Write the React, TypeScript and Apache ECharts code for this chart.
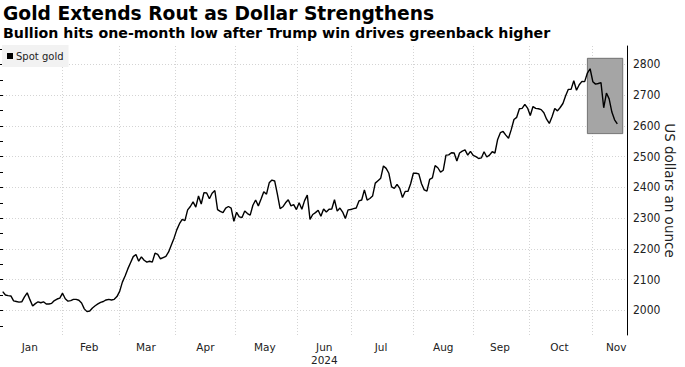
import React, { useEffect, useRef } from "react";
import * as echarts from "echarts";

// ---------- texts ----------
const titleText = "Gold Extends Rout as Dollar Strengthens";
const subtitleText = "Bullion hits one-month low after Trump win drives greenback higher";
const seriesName = "Spot gold";
const yAxisName = "US dollars an ounce";
const monthNames = ["Jan", "Feb", "Mar", "Apr", "May", "Jun", "Jul", "Aug", "Sep", "Oct", "Nov"];
const yearLabel = "2024";
const yearMonth = "06";

// ---------- data (one value per weekday, 2024) ----------
const jan = [null, 2061, 2050, 2048, 2047, 2031, 2029, 2027, 2028, 2044, 2057, 2035, 2014, 2022, 2028, 2025, 2028, 2021, 2021, 2023, 2032, 2037, 2040];
const feb = [2056, 2038, 2030, 2032, 2036, 2036, 2033, 2024, 2005, 1996, 1998, 2008, 2015, 2021, 2026, 2029, 2034, 2036, 2034, 2036, 2045];
const mar = [2062, 2092, 2112, 2135, 2155, 2175, 2182, 2160, 2174, 2163, 2157, 2160, 2157, 2186, 2182, 2168, 2172, 2176, 2190, 2213, 2235];
const apr = [2262, 2282, 2296, 2292, 2327, 2338, 2353, 2336, 2372, 2346, 2383, 2382, 2363, 2381, 2390, 2328, 2322, 2318, 2333, 2338, 2333, 2290];
const may = [2319, 2304, 2302, 2323, 2315, 2310, 2342, 2359, 2340, 2362, 2386, 2378, 2415, 2424, 2421, 2378, 2331, 2337, 2350, 2360, 2340, 2344, 2328];
const jun = [2350, 2329, 2357, 2375, 2296, 2312, 2318, 2326, 2306, 2330, 2320, 2329, 2330, 2360, 2323, 2333, 2320, 2299, 2327, 2328];
const jul = [2331, 2333, 2356, 2359, 2392, 2359, 2364, 2372, 2414, 2422, 2430, 2470, 2462, 2446, 2402, 2397, 2410, 2397, 2367, 2387, 2387, 2412, 2446];
const aug = [2446, 2444, 2412, 2392, 2388, 2426, 2431, 2471, 2464, 2450, 2456, 2505, 2506, 2513, 2512, 2486, 2512, 2518, 2522, 2505, 2517, 2504];
const sep = [2500, 2494, 2496, 2516, 2499, 2505, 2516, 2512, 2556, 2578, 2582, 2570, 2560, 2588, 2621, 2628, 2656, 2657, 2670, 2658, 2634];
const oct = [2663, 2657, 2656, 2653, 2643, 2622, 2608, 2630, 2657, 2649, 2660, 2673, 2698, 2719, 2719, 2747, 2716, 2734, 2745, 2744, 2772, 2786, 2744];
const nov = [2736, 2738, 2741, 2659, 2707, 2688, 2645, 2620, 2607];

const axisStart = "2024-01-01";
const axisEnd = "2024-11-20";

// highlighted box
const boxFrom = "2024-10-29";
const boxTo = "2024-11-15";
const boxLow = 2575;
const boxHigh = 2820;

// y axis
const yMin = 1920;
const yMax = 2860;
const tickMin = 1950;
const tickMax = 2850;
const tickStep = 50;
const labelMin = 2000;
const labelMax = 2800;
const labelStep = 100;

// ---------- layout ----------
const W = 685;
const H = 367;
const plotLeft = -2.68;
const plotRight = 629;
const plotTop = 46;
const plotBottom = 335;
const lineShift = 1.9;
const FONT = "'DejaVu Sans', Verdana, sans-serif";
const NARROW = "'Liberation Sans Narrow', 'DejaVu Sans Condensed', sans-serif";

function weekdayDates(start: string, end: string): string[] {
  const out: string[] = [];
  const d = new Date(start + "T00:00:00Z");
  const e = new Date(end + "T00:00:00Z");
  while (d.getTime() <= e.getTime()) {
    const wd = d.getUTCDay();
    if (wd !== 0 && wd !== 6) out.push(d.toISOString().slice(0, 10));
    d.setUTCDate(d.getUTCDate() + 1);
  }
  return out;
}

function monthEnd(ym: string): string {
  const [y, m] = ym.split("-").map(Number);
  const d = new Date(Date.UTC(y, m, 0));
  return d.toISOString().slice(0, 10);
}

export default function App() {
  const ref = useRef<HTMLDivElement>(null);

  useEffect(() => {
    if (!ref.current) return;
    const chart = echarts.init(ref.current, undefined, { renderer: "svg" });

    const dates = weekdayDates(axisStart, axisEnd);
    const values = [...jan, ...feb, ...mar, ...apr, ...may, ...jun, ...jul, ...aug, ...sep, ...oct, ...nov];
    const seriesData = dates.map((_, i) => (i < values.length ? values[i] : null));

    const monthStarts = new Set<number>();
    const monthLabels = new Map<number, string>();
    const firstIdx = new Map<string, number>();
    dates.forEach((d, i) => {
      const ym = d.slice(0, 7);
      if (!firstIdx.has(ym)) {
        firstIdx.set(ym, i);
        if (i > 0) monthStarts.add(i);
      }
    });
    firstIdx.forEach((s, ym) => {
      const c = weekdayDates(ym + "-01", monthEnd(ym)).length;
      const idx = Math.min(s + Math.floor(c / 2), dates.length - 5);
      const m = ym.slice(5, 7);
      const name = monthNames[Number(m) - 1];
      monthLabels.set(idx, m === yearMonth ? name + "\n" + yearLabel : name);
    });

    const k = (plotBottom - plotTop) / (yMax - yMin);
    const gridW = plotRight - plotLeft;

    const option: any = {
      animation: false,
      backgroundColor: "#fff",
      textStyle: { fontFamily: FONT },
      graphic: [
        {
          type: "text",
          left: 3,
          top: 4,
          style: { text: titleText, fill: "#000", font: `bold 18.7px ${FONT}` },
        },
        {
          type: "text",
          left: 3,
          top: 26,
          style: { text: subtitleText, fill: "#000", font: `bold 14.2px ${FONT}` },
        },
      ],
      legend: {
        left: 2,
        top: 45,
        data: [{ name: seriesName, icon: "rect" }],
        itemWidth: 6,
        itemHeight: 6,
        padding: [6, 5, 6, 5],
        backgroundColor: "#f2f2f2",
        textStyle: { fontSize: 10, color: "#222", fontFamily: FONT, padding: [0, 0, 0, -2] },
        selectedMode: false,
      },
      grid: [
        { left: plotLeft, width: gridW, top: plotTop, height: plotBottom - plotTop },
        { left: plotLeft + lineShift, width: gridW, top: plotTop, height: plotBottom - plotTop },
        {
          left: 0,
          width: plotRight,
          top: plotTop + (yMax - tickMax) * k,
          height: (tickMax - tickMin) * k,
        },
        {
          left: 0,
          width: plotRight,
          top: plotTop + (yMax - labelMax) * k,
          height: (labelMax - labelMin) * k,
        },
      ],
      xAxis: [
        {
          gridIndex: 0,
          type: "category",
          data: dates,
          boundaryGap: false,
          axisLine: { show: false },
          axisTick: { show: false },
          axisLabel: {
            interval: (i: number) => monthLabels.has(i),
            formatter: (_v: string, i: number) => monthLabels.get(i) || "",
            color: "#222",
            fontSize: 10.5,
            fontFamily: FONT,
            margin: 5,
            lineHeight: 13,
          },
          splitLine: {
            show: true,
            interval: (i: number) => monthStarts.has(i),
            lineStyle: { color: "#d4d4d4", type: [1, 2], width: 1 },
          },
        },
        { gridIndex: 1, type: "category", data: dates, boundaryGap: false, show: false },
        { gridIndex: 2, type: "value", show: false },
        { gridIndex: 3, type: "value", show: false },
      ],
      yAxis: [
        {
          gridIndex: 0,
          type: "value",
          position: "right",
          min: yMin,
          max: yMax,
          axisLine: { show: true, lineStyle: { color: "#000", width: 1 } },
          axisTick: { show: false },
          axisLabel: { show: false },
          splitLine: { show: false },
          name: yAxisName,
          nameLocation: "middle",
          nameRotate: -90,
          nameGap: 36,
          nameTextStyle: { fontSize: 13.5, color: "#222", fontFamily: FONT },
        },
        { gridIndex: 1, type: "value", min: yMin, max: yMax, show: false },
        {
          gridIndex: 2,
          type: "value",
          position: "right",
          min: tickMin,
          max: tickMax,
          interval: tickStep,
          axisLine: { show: false },
          axisTick: { show: true, length: 3, lineStyle: { color: "#000" } },
          axisLabel: {
            formatter: (v: number) => ((v - labelMin) % labelStep === 0 && v >= labelMin && v <= labelMax ? String(v) : ""),
            color: "#222",
            fontSize: 12,
            fontFamily: NARROW,
            margin: 4,
          },
          splitLine: { show: false },
        },
        {
          gridIndex: 3,
          type: "value",
          min: labelMin,
          max: labelMax,
          interval: labelStep,
          axisLine: { show: false },
          axisTick: { show: false },
          axisLabel: { show: false },
          splitLine: { show: true, lineStyle: { color: "#d4d4d4", type: [1, 2], width: 1 } },
        },
      ],
      series: [
        {
          name: seriesName,
          type: "line",
          xAxisIndex: 1,
          yAxisIndex: 1,
          data: seriesData,
          showSymbol: false,
          symbol: "none",
          color: "#000",
          lineStyle: { color: "#000", width: 1.4 },
          z: 5,
          markArea: {
            silent: true,
            itemStyle: { color: "#a5a5a5", borderColor: "#5c5c5c", borderWidth: 0.8 },
            data: [[{ xAxis: boxFrom, yAxis: boxHigh }, { xAxis: boxTo, yAxis: boxLow }]],
          },
        },
      ],
    };

    chart.setOption(option);
    return () => chart.dispose();
  }, []);

  return <div ref={ref} style={{ width: W, height: H, position: "absolute", left: 0, top: 0 }} />;
}
